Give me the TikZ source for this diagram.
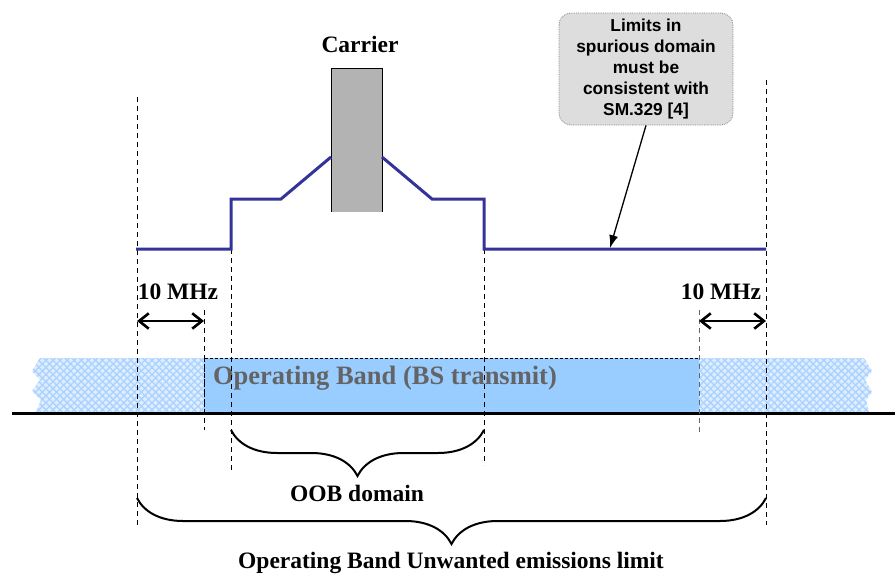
\documentclass[tikz,border=0pt]{standalone}
\usepackage{fontspec}
\setmainfont{Liberation Serif}
\newfontfamily\calloutfont{Liberation Sans}
\usetikzlibrary{arrows.meta,patterns.meta,decorations.pathreplacing}
\definecolor{maskblue}{RGB}{51,51,153}
\definecolor{bandblue}{RGB}{153,204,255}
\definecolor{hatchbg}{RGB}{222,237,255}
\definecolor{hatchline}{RGB}{170,210,255}
\definecolor{carriergray}{RGB}{179,179,179}
\definecolor{notegray}{RGB}{221,221,221}
\definecolor{bandtext}{RGB}{100,100,100}

\begin{document}
\begin{tikzpicture}[x=1pt,y=-1pt]
\tikzset{
  lbl/.style={inner sep=0pt,font=\bfseries\fontsize{23.5}{26}\selectfont},
  maskline/.style={draw=maskblue,line width=3pt,line join=miter},
  guide/.style={draw=black,line width=0.8pt,dash pattern=on 5pt off 4pt},
  spanarrow/.style={draw=black,line width=2.6pt,{Straight Barb[length=3.4mm,width=5.4mm]}-{Straight Barb[length=3.4mm,width=5.4mm]}},
  bracestyle/.style={draw=black,line width=2pt,decorate,decoration={brace,mirror,amplitude=46pt}},
  callout/.style={rectangle,rounded corners=12pt,fill=notegray,draw=gray,densely dotted,line width=0.8pt,
    minimum width=174pt,minimum height=112pt,align=center,inner sep=2pt,
    font=\calloutfont\bfseries\fontsize{17.3}{21}\selectfont},
  notearrow/.style={draw=black,line width=1.3pt,-{Latex[length=4.5mm,width=3.2mm]}},
  hatch/.style={pattern={Lines[angle=#1,distance=5pt,line width=1.3pt]},pattern color=hatchline}
}
\useasboundingbox (0,0) rectangle (895,576);
% operating band
\def\bandedge{(40,358) -- (864,358) -- (872,371) -- (865,380) -- (872,392) -- (866,400) -- (869,412)
  -- (36,412) -- (41,400) -- (32,391) -- (40,380) -- (32,371) -- cycle}
\fill[hatchbg] \bandedge;
\path[hatch=45] \bandedge;
\path[hatch=-45] \bandedge;
\fill[bandblue] (204,358) rectangle (699,412);
\draw[black,line width=0.8pt,dash pattern=on 3pt off 2pt] (204,412) -- (204,358) -- (699,358);
\node[lbl,text=bandtext,font=\bfseries\fontsize{26.5}{28}\selectfont] (n_band) at (385,378) {Operating Band (BS transmit)};
\draw[black,line width=3pt] (12,413) -- (895,413);
% guides
\draw[guide] (137,97) -- (137,525);
\draw[guide] (766,80) -- (766,525);
\draw[guide] (204,310) -- (204,430);
\draw[guide,draw=black!60] (699,310) -- (699,435);
\draw[guide] (231,249) -- (231,470);
\draw[guide] (484,249) -- (484,465);
% carrier and mask
\fill[carriergray] (331,68) rectangle (382,212);
\draw[black,line width=0.8pt] (331,212) -- (331,68) -- (382,68) -- (382,212);
\node[lbl] (n_carrier) at (360,44) {Carrier};
\draw[maskline] (136,249) -- (231,249) -- (231,199) -- (281,199) -- (331,157);
\draw[maskline] (382,157) -- (432,199) -- (484,199) -- (484,249) -- (766,249);
% 10 MHz spans
\coordinate (n_l1) at (137,321);
\coordinate (n_l2) at (204,321);
\coordinate (n_r1) at (699,321);
\coordinate (n_r2) at (766,321);
\draw[spanarrow] (n_l1) -- (n_l2);
\draw[spanarrow] (n_r1) -- (n_r2);
\node[lbl] (n_mhzL) at (178,292) {10 MHz};
\node[lbl] (n_mhzR) at (721,292) {10 MHz};
% callout
\node[callout] (n_note) at (646,69) {Limits in\\spurious domain\\must be\\consistent with\\SM.329 [4]};
\coordinate (n_tip) at (610,248);
\draw[notearrow] (n_note.south) -- (n_tip);
% braces
\coordinate (n_oobL) at (231,430);
\coordinate (n_oobR) at (484,430);
\coordinate (n_allL) at (137,498);
\coordinate (n_allR) at (766,498);
\draw[bracestyle] (n_oobL) -- (n_oobR);
\draw[bracestyle] (n_allL) -- (n_allR);
\node[lbl] (n_oob) at (357,493) {OOB domain};
\node[lbl] (n_limit) at (451,563) {Operating Band Unwanted emissions limit};
\end{tikzpicture}
\end{document}
